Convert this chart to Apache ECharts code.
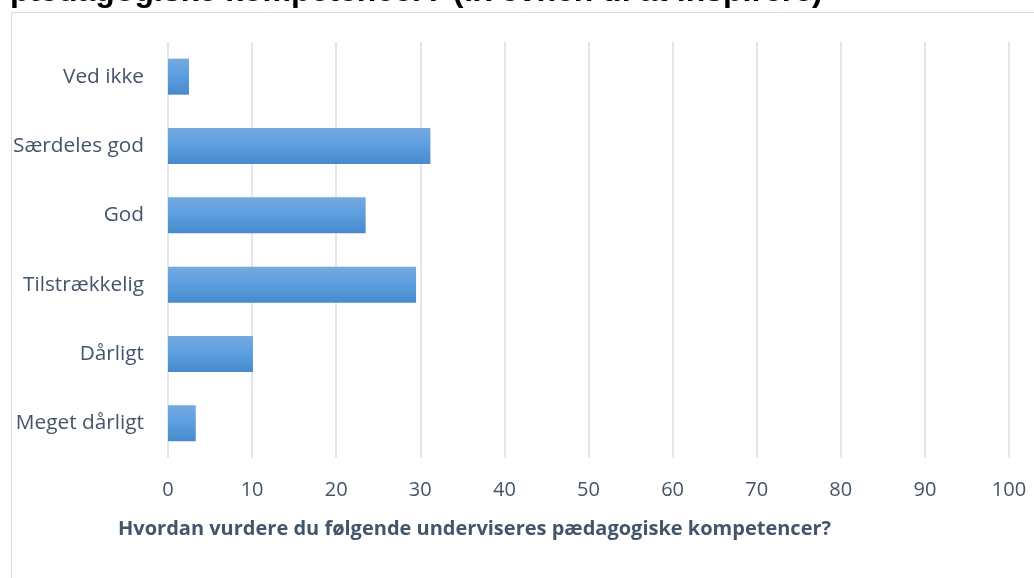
<!DOCTYPE html>
<html>
<head>
<meta charset="utf-8">
<script src="https://cdn.jsdelivr.net/npm/echarts@6/dist/echarts.min.js"></script>
<style>html,body{margin:0;padding:0;background:#fff}#c{width:1034px;height:578px}</style>
</head>
<body>
<div id="c"></div>
<script>
const categories = ['Meget dårligt', 'Dårligt', 'Tilstrækkelig', 'God', 'Særdeles god', 'Ved ikke'];
const values = [3.3, 10.1, 29.5, 23.5, 31.2, 2.5];
const xTicks = [0, 10, 20, 30, 40, 50, 60, 70, 80, 90, 100];
const titleText = 'pædagogiske kompetencer? (fx evnen til at inspirere)';
const axisTitle = 'Hvordan vurdere du følgende underviseres pædagogiske kompetencer?';

const chart = echarts.init(document.getElementById('c'), null, {renderer: 'canvas'});
const labelColor = '#44546A';
chart.setOption({
  animation: false,
  grid: {left: 168, right: 25, top: 42, bottom: 120},
  xAxis: {
    type: 'value', min: xTicks[0], max: xTicks[xTicks.length - 1], interval: 10,
    axisLine: {show: false}, axisTick: {show: false},
    axisLabel: {color: labelColor, fontFamily: 'Open Sans', fontSize: 20, margin: 22},
    splitLine: {lineStyle: {color: '#DADEE4', width: 1.5}}
  },
  yAxis: {
    type: 'category', data: categories,
    axisLine: {show: false}, axisTick: {show: false},
    axisLabel: {color: labelColor, fontFamily: 'Open Sans', fontSize: 20.8, margin: 24}
  },
  series: [{
    type: 'bar', data: values, barWidth: 36,
    itemStyle: {color: new echarts.graphic.LinearGradient(0, 0, 0, 1, [
      {offset: 0, color: '#76A9DE'},
      {offset: 0.5, color: '#5A9EE0'},
      {offset: 1, color: '#4889CA'}
    ])}
  }],
  graphic: [
    {type: 'rect', left: 9, top: 10, shape: {width: 1100, height: 700},
     style: {fill: 'none', stroke: '#D9DCE1', lineWidth: 1}, silent: true, z: -1},
    {type: 'text', left: 10, top: -23.5,
     style: {text: titleText, font: 'bold 32px "Liberation Sans", Arial', fill: '#000'}},
    {type: 'text', left: 118, top: 519,
     style: {text: axisTitle, font: 'bold 20px "Open Sans"', fill: labelColor}}
  ]
});
</script>
</body>
</html>
